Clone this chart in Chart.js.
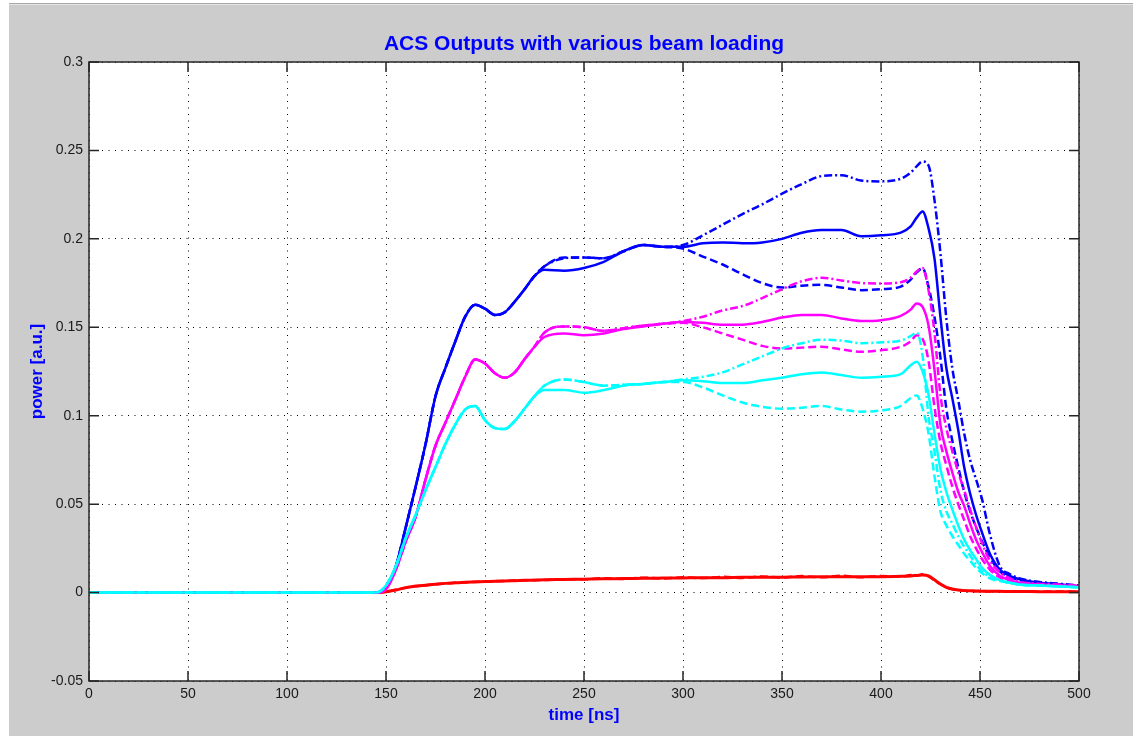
<!DOCTYPE html>
<html>
<head>
<meta charset="utf-8">
<title>ACS Outputs with various beam loading</title>
<script src="https://cdn.jsdelivr.net/npm/chart.js@4.4.1/dist/chart.umd.min.js"></script>
<style>
  html, body { margin: 0; padding: 0; background: #fff; }
  .fig {
    position: absolute; left: 9px; top: 3px; right: 0; bottom: 2px;
    background: #cccccc;
    border-top: 1px solid #a8a8a8;
    box-shadow: inset 0 1px 0 #e4e4e4;
  }
  #acs { position: absolute; left: 0; top: 0; }
</style>
</head>
<body>
<div class="fig"></div>
<canvas id="acs" width="1133" height="738"></canvas>
<script>
// sample times (ns), shared by every trace
const timeNs = [
  0, 145, 150, 155, 160, 165, 170, 175, 180, 185,
  190, 195, 200, 205, 210, 215, 220, 225, 230, 240,
  250, 260, 270, 280, 290, 300, 310, 320, 330, 340,
  350, 360, 370, 380, 390, 400, 410, 415, 418, 421,
  424, 427, 430, 433, 436, 439, 442, 445, 448, 451,
  455, 460, 465, 470, 480, 490, 500
];

// blue: highest output
const blueSolid = [
  0, 0, 0.003, 0.015, 0.037, 0.060, 0.084, 0.111, 0.127, 0.142,
  0.156, 0.1628, 0.1605, 0.157, 0.1585, 0.1645, 0.1715, 0.179, 0.1825, 0.182,
  0.1835, 0.187, 0.193, 0.1965, 0.1955, 0.1955, 0.1975, 0.198, 0.1975, 0.198,
  0.200, 0.2035, 0.205, 0.205, 0.2015, 0.202, 0.2035, 0.207, 0.212, 0.2155,
  0.206, 0.189, 0.156, 0.127, 0.110, 0.092, 0.071, 0.056, 0.044, 0.034,
  0.022, 0.013, 0.0095, 0.0075, 0.0055, 0.0045, 0.0035
];
const blueDashed = [
  0, 0, 0.003, 0.015, 0.037, 0.060, 0.084, 0.111, 0.127, 0.142,
  0.156, 0.1628, 0.1605, 0.157, 0.1585, 0.1645, 0.1715, 0.179, 0.1845, 0.1895,
  0.1895, 0.189, 0.193, 0.1965, 0.1955, 0.1945, 0.190, 0.1855, 0.180, 0.175,
  0.1725, 0.1735, 0.174, 0.1725, 0.171, 0.1715, 0.173, 0.177, 0.181, 0.1834,
  0.173, 0.156, 0.133, 0.104, 0.086, 0.071, 0.057, 0.046, 0.037, 0.029,
  0.020, 0.012, 0.009, 0.007, 0.0055, 0.0045, 0.0035
];
const blueDashDot = [
  0, 0, 0.003, 0.015, 0.037, 0.060, 0.084, 0.111, 0.127, 0.142,
  0.156, 0.1628, 0.1605, 0.157, 0.1585, 0.1645, 0.1715, 0.179, 0.1845, 0.189,
  0.1895, 0.189, 0.193, 0.1965, 0.1955, 0.1965, 0.202, 0.208, 0.214, 0.2195,
  0.2255, 0.231, 0.2355, 0.236, 0.233, 0.2325, 0.234, 0.2375, 0.241, 0.2437,
  0.2415, 0.222, 0.192, 0.155, 0.127, 0.109, 0.090, 0.075, 0.064, 0.053,
  0.033, 0.015, 0.0105, 0.008, 0.006, 0.005, 0.004
];

// magenta: middle output
const magentaSolid = [
  0, 0, 0.002, 0.013, 0.029, 0.043, 0.064, 0.083, 0.096, 0.109,
  0.122, 0.1318, 0.1295, 0.124, 0.1215, 0.1245, 0.132, 0.139, 0.1445, 0.1465,
  0.1455, 0.1465, 0.149, 0.1505, 0.152, 0.153, 0.1525, 0.1515, 0.1515, 0.153,
  0.1555, 0.157, 0.157, 0.155, 0.1535, 0.154, 0.1565, 0.160, 0.1635, 0.1615,
  0.151, 0.126, 0.095, 0.080, 0.068, 0.057, 0.049, 0.039, 0.030, 0.023,
  0.015, 0.0095, 0.007, 0.0055, 0.0045, 0.004, 0.0035
];
const magentaDashed = [
  0, 0, 0.002, 0.013, 0.029, 0.043, 0.064, 0.083, 0.096, 0.109,
  0.122, 0.1318, 0.1295, 0.124, 0.1215, 0.1245, 0.132, 0.139, 0.147, 0.1505,
  0.150, 0.148, 0.1495, 0.151, 0.152, 0.1525, 0.150, 0.1465, 0.143, 0.1395,
  0.138, 0.1385, 0.139, 0.1375, 0.1362, 0.137, 0.139, 0.142, 0.1455, 0.1435,
  0.131, 0.105, 0.085, 0.072, 0.060, 0.050, 0.041, 0.032, 0.025, 0.019,
  0.013, 0.0085, 0.0065, 0.0055, 0.0045, 0.004, 0.0035
];
const magentaDashDot = [
  0, 0, 0.002, 0.013, 0.029, 0.043, 0.064, 0.083, 0.096, 0.109,
  0.122, 0.1318, 0.1295, 0.124, 0.1215, 0.1245, 0.132, 0.139, 0.147, 0.1505,
  0.150, 0.148, 0.1495, 0.151, 0.152, 0.1535, 0.156, 0.1595, 0.162, 0.1665,
  0.1715, 0.176, 0.178, 0.1765, 0.175, 0.1748, 0.1755, 0.178, 0.1815, 0.1835,
  0.171, 0.147, 0.112, 0.093, 0.080, 0.068, 0.058, 0.047, 0.037, 0.028,
  0.018, 0.0115, 0.008, 0.006, 0.005, 0.0045, 0.004
];

// cyan: lowest output
const cyanSolid = [
  0, 0, 0.004, 0.015, 0.031, 0.044, 0.058, 0.071, 0.084, 0.095,
  0.1035, 0.1055, 0.0975, 0.093, 0.0925, 0.097, 0.104, 0.111, 0.1145, 0.1145,
  0.113, 0.1145, 0.117, 0.118, 0.119, 0.120, 0.1195, 0.1185, 0.1185, 0.120,
  0.1215, 0.1235, 0.1245, 0.123, 0.1215, 0.122, 0.1235, 0.1285, 0.1305, 0.125,
  0.112, 0.090, 0.070, 0.057, 0.047, 0.038, 0.030, 0.024, 0.019, 0.014,
  0.010, 0.007, 0.0055, 0.0045, 0.004, 0.0035, 0.003
];
const cyanDashed = [
  0, 0, 0.004, 0.015, 0.031, 0.044, 0.058, 0.071, 0.084, 0.095,
  0.1035, 0.1055, 0.0975, 0.093, 0.0925, 0.097, 0.104, 0.111, 0.117, 0.1205,
  0.119, 0.117, 0.1175, 0.118, 0.119, 0.119, 0.116, 0.1115, 0.1075, 0.105,
  0.104, 0.1045, 0.1055, 0.1035, 0.1023, 0.103, 0.1055, 0.110, 0.1115, 0.104,
  0.090, 0.066, 0.046, 0.038, 0.032, 0.027, 0.022, 0.018, 0.014, 0.011,
  0.008, 0.0065, 0.0055, 0.0045, 0.004, 0.0035, 0.003
];
const cyanDashDot = [
  0, 0, 0.004, 0.015, 0.031, 0.044, 0.058, 0.071, 0.084, 0.095,
  0.1035, 0.1055, 0.0975, 0.093, 0.0925, 0.097, 0.104, 0.111, 0.117, 0.1205,
  0.119, 0.117, 0.1175, 0.118, 0.119, 0.1205, 0.122, 0.1245, 0.129, 0.1335,
  0.138, 0.141, 0.143, 0.1425, 0.141, 0.1415, 0.1425, 0.145, 0.147, 0.134,
  0.100, 0.080, 0.058, 0.046, 0.039, 0.032, 0.026, 0.021, 0.016, 0.012,
  0.009, 0.007, 0.0055, 0.0045, 0.004, 0.0035, 0.003
];

// red: reflected power, small and noisy
const redSolid = [
  0, 0, 0.0005, 0.0015, 0.0028, 0.0036, 0.0042, 0.0047, 0.0052, 0.0055,
  0.0058, 0.006, 0.0062, 0.0064, 0.0066, 0.0067, 0.0069, 0.007, 0.0072, 0.0074,
  0.0076, 0.0078, 0.0079, 0.0081, 0.0082, 0.0083, 0.0084, 0.0084, 0.0086, 0.0086,
  0.0087, 0.0088, 0.0089, 0.009, 0.009, 0.009, 0.0092, 0.0094, 0.0097, 0.0100,
  0.0095, 0.0072, 0.0048, 0.003, 0.002, 0.0014, 0.0011, 0.001, 0.0009, 0.0008,
  0.0007, 0.0007, 0.0006, 0.0006, 0.0005, 0.0005, 0.0005
];
const redDashed = [
  0, 0, 0.0005, 0.0016, 0.0027, 0.0037, 0.0041, 0.0048, 0.0051, 0.0056,
  0.0057, 0.0061, 0.0062, 0.0065, 0.0065, 0.0068, 0.0069, 0.0071, 0.0071, 0.0075,
  0.0075, 0.0081, 0.0077, 0.0084, 0.0080, 0.0086, 0.0082, 0.0089, 0.0083, 0.0091,
  0.0085, 0.0093, 0.0086, 0.0095, 0.0087, 0.0094, 0.0090, 0.0099, 0.0095, 0.0103,
  0.0091, 0.0069, 0.0047, 0.0031, 0.0019, 0.0015, 0.0010, 0.0011, 0.0008, 0.0009,
  0.0006, 0.0008, 0.0005, 0.0007, 0.0005, 0.0006, 0.0005
];

const xTicks = [0, 50, 100, 150, 200, 250, 300, 350, 400, 450, 500];
const yTicks = [-0.05, 0, 0.05, 0.1, 0.15, 0.2, 0.25, 0.3];

const DASHED = [8, 4];
const DASH_DOT = [8, 3, 2, 3];
const FONT = "'Liberation Sans', Arial, Helvetica, sans-serif";

function trace(values, color, dash, width) {
  return {
    data: timeNs.map((t, i) => ({ x: t, y: values[i] })),
    borderColor: color,
    borderWidth: width || 2.5,
    borderDash: dash,
    pointRadius: 0,
    fill: false,
    cubicInterpolationMode: 'monotone'
  };
}

// white axes box, inward ticks on all four sides, and the text labels
const matlabAxes = {
  id: 'matlabAxes',
  beforeDraw(chart) {
    const { ctx, chartArea: a } = chart;
    ctx.save();
    ctx.fillStyle = '#ffffff';
    ctx.fillRect(a.left, a.top, a.right - a.left, a.bottom - a.top);
    ctx.restore();
  },
  afterDraw(chart) {
    const { ctx, chartArea: a, scales: { x, y } } = chart;
    const tick = 10;
    ctx.save();
    ctx.strokeStyle = '#262626';
    ctx.lineWidth = 1.5;
    ctx.beginPath();
    for (const v of xTicks) {
      const px = x.getPixelForValue(v);
      ctx.moveTo(px, a.bottom); ctx.lineTo(px, a.bottom - tick);
      ctx.moveTo(px, a.top); ctx.lineTo(px, a.top + tick);
    }
    for (const v of yTicks) {
      const py = y.getPixelForValue(v);
      ctx.moveTo(a.left, py); ctx.lineTo(a.left + tick, py);
      ctx.moveTo(a.right, py); ctx.lineTo(a.right - tick, py);
    }
    ctx.stroke();
    ctx.strokeRect(a.left, a.top, a.right - a.left, a.bottom - a.top);

    ctx.fillStyle = '#0000ff';
    ctx.textAlign = 'center';
    ctx.textBaseline = 'alphabetic';
    const cx = (a.left + a.right) / 2;
    ctx.font = `bold 21px ${FONT}`;
    ctx.fillText('ACS Outputs with various beam loading', cx, 50);
    ctx.font = `bold 17px ${FONT}`;
    ctx.fillText('time [ns]', cx, 720);
    ctx.translate(42, (a.top + a.bottom) / 2);
    ctx.rotate(-Math.PI / 2);
    ctx.fillText('power [a.u.]', 0, 0);
    ctx.restore();
  }
};

const ctx = document.getElementById('acs').getContext('2d');
new Chart(ctx, {
  type: 'line',
  data: {
    datasets: [
      trace(cyanSolid, '#00ffff'),
      trace(cyanDashed, '#00ffff', DASHED),
      trace(cyanDashDot, '#00ffff', DASH_DOT),
      trace(magentaSolid, '#ff00ff'),
      trace(magentaDashed, '#ff00ff', DASHED),
      trace(magentaDashDot, '#ff00ff', DASH_DOT),
      trace(blueSolid, '#0000ff'),
      trace(blueDashed, '#0000ff', DASHED),
      trace(blueDashDot, '#0000ff', DASH_DOT),
      trace(redSolid, '#ff0000', [], 3),
      trace(redDashed, '#ff0000', DASHED, 2.5)
    ]
  },
  options: {
    responsive: false,
    animation: false,
    layout: { padding: { top: 62, right: 54, bottom: 0, left: 0 } },
    plugins: {
      legend: { display: false },
      tooltip: { enabled: false }
    },
    scales: {
      x: {
        type: 'linear',
        min: 0,
        max: 500,
        afterFit: (s) => { s.height = 57; },
        afterBuildTicks: (s) => { s.ticks = xTicks.map(v => ({ value: v })); },
        ticks: {
          padding: 5,
          color: '#1a1a1a',
          font: { family: FONT, size: 14 },
          callback: (v) => String(v)
        },
        grid: { color: '#000', lineWidth: 1, drawTicks: false },
        border: { display: false, dash: [1, 5.5] }
      },
      y: {
        type: 'linear',
        min: -0.05,
        max: 0.3,
        afterFit: (s) => { s.width = 89; },
        afterBuildTicks: (s) => { s.ticks = yTicks.map(v => ({ value: v })); },
        ticks: {
          padding: 6,
          color: '#1a1a1a',
          font: { family: FONT, size: 14 },
          callback: (v) => String(+v.toFixed(2))
        },
        grid: { color: '#000', lineWidth: 1, drawTicks: false },
        border: { display: false, dash: [1, 5.5] }
      }
    }
  },
  plugins: [matlabAxes]
});
</script>
</body>
</html>
